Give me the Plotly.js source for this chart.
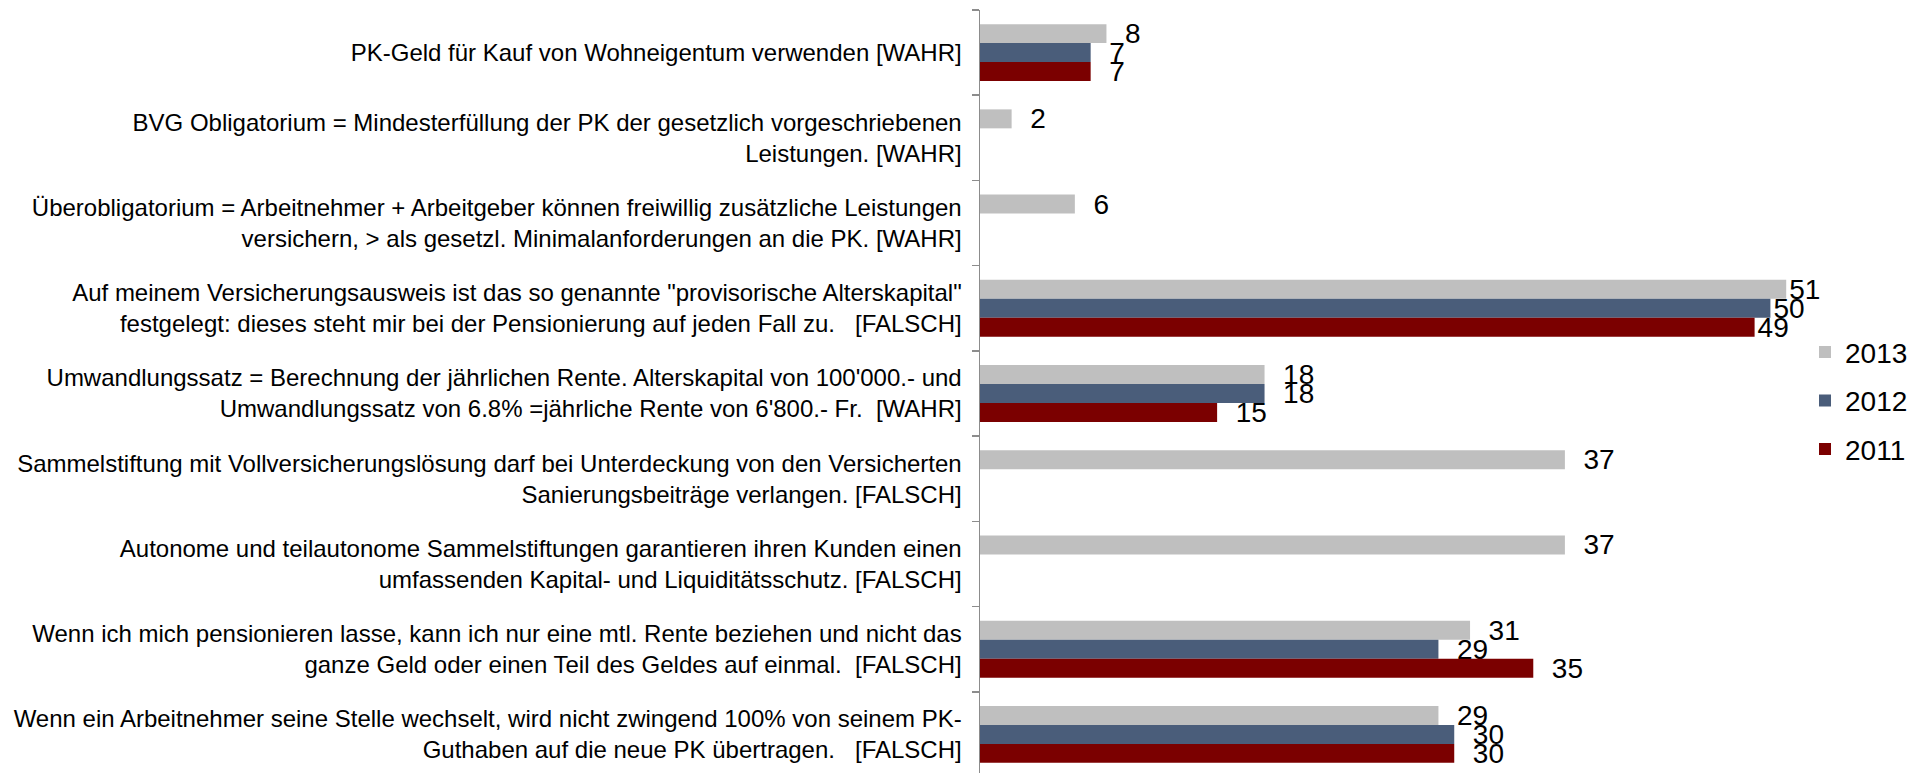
<!DOCTYPE html>
<html>
<head>
<meta charset="utf-8">
<script src="https://cdn.plot.ly/plotly-3.0.1.min.js"></script>
<style>html,body{margin:0;padding:0;background:#fff;}#chart{width:1919px;height:773px;}</style>
</head>
<body>
<div id="chart"></div>
<script>
const categories = [
  "PK-Geld für Kauf von Wohneigentum verwenden [WAHR]",
  "BVG Obligatorium = Mindesterfüllung der PK der gesetzlich vorgeschriebenen<br>Leistungen. [WAHR]",
  "Überobligatorium = Arbeitnehmer + Arbeitgeber können freiwillig zusätzliche Leistungen<br>versichern, > als gesetzl. Minimalanforderungen an die PK. [WAHR]",
  "Auf meinem Versicherungsausweis ist das so genannte \"provisorische Alterskapital\"<br>festgelegt: dieses steht mir bei der Pensionierung auf jeden Fall zu.\u00a0\u00a0 [FALSCH]",
  "Umwandlungssatz = Berechnung der jährlichen Rente. Alterskapital von 100'000.- und<br>Umwandlungssatz von 6.8% =jährliche Rente von 6'800.- Fr.\u00a0 [WAHR]",
  "Sammelstiftung mit Vollversicherungslösung darf bei Unterdeckung von den Versicherten<br>Sanierungsbeiträge verlangen. [FALSCH]",
  "Autonome und teilautonome Sammelstiftungen garantieren ihren Kunden einen<br>umfassenden Kapital- und Liquiditätsschutz. [FALSCH]",
  "Wenn ich mich pensionieren lasse, kann ich nur eine mtl. Rente beziehen und nicht das<br>ganze Geld oder einen Teil des Geldes auf einmal.\u00a0 [FALSCH]",
  "Wenn ein Arbeitnehmer seine Stelle wechselt, wird nicht zwingend 100% von seinem PK-<br>Guthaben auf die neue PK übertragen.\u00a0\u00a0 [FALSCH]"
];
const seriesNames = ["2013", "2012", "2011"];
const values2013 = [8, 2, 6, 51, 18, 37, 37, 31, 29];
const values2012 = [7, null, null, 50, 18, null, null, 29, 30];
const values2011 = [7, null, null, 49, 15, null, null, 35, 30];
const seriesColors = ["#BFBFBF", "#4A5D7A", "#7B0000"];

const FONT = "Liberation Sans, Arial, sans-serif";
const allValues = [values2013, values2012, values2011];

function labelText(v) {
  if (v === null) return "";
  return (v >= 45 ? "" : "\u00a0\u00a0") + v;
}

const traces = allValues.map((vals, i) => ({
  type: "bar",
  orientation: "h",
  name: seriesNames[i],
  legendgroup: seriesNames[i],
  x: vals,
  y: categories,
  marker: { color: seriesColors[i], line: { width: 0 } },
  text: vals.map(labelText),
  textposition: "outside",
  textangle: 0,
  constraintext: "none",
  cliponaxis: false,
  outsidetextfont: { family: FONT, size: 28, color: "#000" },
  hoverinfo: "x+name"
}));

const layout = {
  width: 1919,
  height: 773,
  margin: { l: 980, r: 0, t: 10, b: 0, pad: 0 },
  paper_bgcolor: "#fff",
  plot_bgcolor: "#fff",
  barmode: "group",
  bargap: 0.332,
  bargroupgap: 0,
  showlegend: true,
  legend: {
    x: 0.8786, xanchor: "left",
    y: 0.584, yanchor: "top",
    traceorder: "grouped",
    tracegroupgap: 9,
    itemwidth: 30,
    font: { family: FONT, size: 28, color: "#000" },
    bgcolor: "rgba(0,0,0,0)",
    borderwidth: 0
  },
  xaxis: {
    range: [0, 59.4],
    visible: false,
    showgrid: false,
    zeroline: false
  },
  yaxis: {
    type: "category",
    range: [8.453, -0.5],
    showline: true,
    linecolor: "#8C8C8C",
    linewidth: 1.5,
    ticks: "outside",
    tickson: "boundaries",
    ticklen: 7,
    tickcolor: "#8C8C8C",
    tickwidth: 1.5,
    ticklabelstandoff: 12,
    showgrid: false,
    zeroline: false,
    tickfont: { family: FONT, size: 24, color: "#000" }
  },
  font: { family: FONT, size: 24, color: "#000" }
};

Plotly.newPlot("chart", traces, layout, { displayModeBar: false, staticPlot: true });
</script>
</body>
</html>
